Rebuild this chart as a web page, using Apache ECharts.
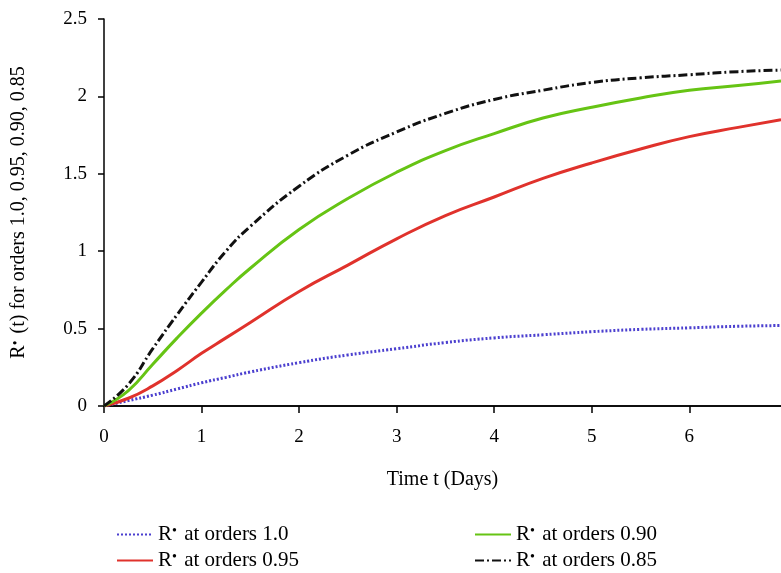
<!DOCTYPE html>
<html>
<head>
<meta charset="utf-8">
<script src="https://cdn.jsdelivr.net/npm/echarts@6/dist/echarts.min.js"></script>
<style>html,body{margin:0;padding:0;background:#fff}#c{width:781px;height:573px}</style>
</head>
<body>
<div id="c"></div>
<script>
var times    = [0, 0.25, 0.5, 0.75, 1, 1.25, 1.5, 2, 2.5, 3, 3.5, 4, 4.5, 5, 5.5, 6, 6.5, 6.94];
var order100 = [0, 0.035, 0.07, 0.11, 0.15, 0.185, 0.22, 0.28, 0.33, 0.37, 0.41, 0.44, 0.46, 0.48, 0.495, 0.505, 0.515, 0.52];
var order095 = [0, 0.05, 0.13, 0.23, 0.34, 0.44, 0.54, 0.74, 0.91, 1.08, 1.23, 1.35, 1.47, 1.57, 1.66, 1.74, 1.80, 1.85];
var order090 = [0, 0.10, 0.27, 0.44, 0.60, 0.75, 0.89, 1.14, 1.34, 1.51, 1.65, 1.76, 1.86, 1.93, 1.99, 2.04, 2.07, 2.10];
var order085 = [0, 0.14, 0.37, 0.59, 0.80, 1.00, 1.16, 1.42, 1.62, 1.77, 1.89, 1.98, 2.04, 2.09, 2.12, 2.14, 2.16, 2.17];
var yTicks = [0, 0.5, 1, 1.5, 2, 2.5];
var names = ['R\u2022 at orders 1.0', 'R\u2022 at orders 0.95', 'R\u2022 at orders 0.90', 'R\u2022 at orders 0.85'];
var yName = 'R\u2022 (t) for orders 1.0, 0.95, 0.90, 0.85';
var xName = 'Time t (Days)';

function pairs(ys){ return times.map(function(t,i){ return [t, ys[i]]; }); }
function sup(s){ return s.replace('\u2022', '{s|\u2022}'); }
var font = 'Liberation Serif';
var richS = { s: { fontFamily: font, fontSize: 14, color: '#000', verticalAlign: 'top', padding: [0, 2, 0, 0] } };
function legendAt(name, left, top){
  return {
    data: [name], left: left, top: top, padding: 0,
    itemWidth: 36, itemHeight: 12, itemGap: 0,
    itemStyle: { opacity: 0 },
    lineStyle: { width: 2 },
    formatter: sup,
    textStyle: { fontFamily: font, fontSize: 21, color: '#000', rich: richS }
  };
}
function lineSeries(name, ys, color, type){
  return { name: name, type: 'line', smooth: true, symbol: 'none', data: pairs(ys),
    itemStyle: { color: color }, lineStyle: { color: color, width: 3, type: type } };
}
var chart = echarts.init(document.getElementById('c'));
chart.setOption({
  animation: false,
  backgroundColor: '#fff',
  grid: { left: 104, top: 19, right: 0, bottom: 167 },
  xAxis: [{
    type: 'value', min: 0, max: 6.94, interval: 1,
    name: xName, nameLocation: 'middle', nameGap: 64,
    nameTextStyle: { fontFamily: font, fontSize: 20, color: '#000' },
    axisLine: { onZero: false, lineStyle: { color: '#000', width: 1.5 } },
    axisTick: { length: 7, lineStyle: { color: '#000', width: 1.5 } },
    axisLabel: { fontFamily: font, fontSize: 19, color: '#000', margin: 22, showMaxLabel: false },
    splitLine: { show: false }
  }, {
    type: 'value', position: 'top', min: 0, max: 6.94,
    axisLine: { show: true, lineStyle: { color: '#000', width: 1.5 } },
    axisTick: { show: false }, axisLabel: { show: false }, splitLine: { show: false }
  }],
  yAxis: {
    type: 'value', min: yTicks[0], max: yTicks[yTicks.length-1], interval: 0.5,
    name: sup(yName), nameLocation: 'middle', nameGap: 75,
    nameTextStyle: { fontFamily: font, fontSize: 20, color: '#000', rich: richS },
    axisLine: { show: true, lineStyle: { color: '#000', width: 1.5 } },
    axisTick: { show: true, length: 6, lineStyle: { color: '#000', width: 1.5 } },
    axisLabel: { fontFamily: font, fontSize: 19, color: '#000', margin: 17 },
    splitLine: { show: false }
  },
  legend: [
    legendAt(names[0], 116, 524),
    legendAt(names[1], 116, 550),
    legendAt(names[2], 474, 524),
    legendAt(names[3], 474, 550)
  ],
  series: [
    lineSeries(names[0], order100, '#4b3fcf', [2, 2]),
    lineSeries(names[1], order095, '#e0322c', 'solid'),
    lineSeries(names[2], order090, '#66c414', 'solid'),
    lineSeries(names[3], order085, '#111', [9, 3, 2, 3])
  ]
});
</script>
</body>
</html>
